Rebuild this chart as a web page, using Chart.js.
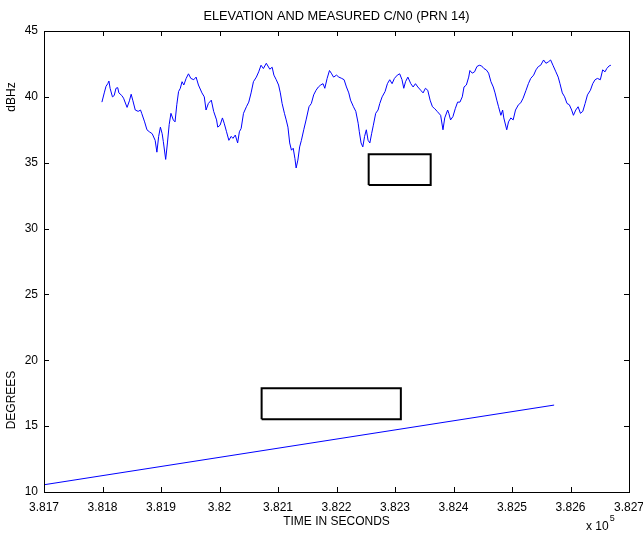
<!DOCTYPE html>
<html>
<head>
<meta charset="utf-8">
<script src="https://cdn.jsdelivr.net/npm/chart.js@4"></script>
<style>
  html, body { margin: 0; padding: 0; background: #fff; }
</style>
</head>
<body>
<canvas id="chart" width="643" height="535"></canvas>
<script>
// C/N0 trace (seconds, dBHz)
const cnTime = [
  381799, 381803, 381806, 381809, 381811, 381813, 381817, 381820, 381823, 381826,
  381828, 381833, 381836, 381842, 381846, 381849, 381852, 381856, 381861, 381865,
  381867, 381872, 381876, 381880, 381885, 381890, 381893, 381896, 381899, 381902,
  381904, 381908, 381911, 381914, 381917, 381921, 381924, 381927, 381930, 381933,
  381936, 381939, 381943, 381947, 381951, 381956, 381960, 381964, 381970, 381974,
  381977, 381981, 381986, 381990, 381995, 381997, 382001, 382005, 382008, 382012,
  382016, 382020, 382023, 382027, 382031, 382034, 382037, 382041, 382046, 382050,
  382054, 382058, 382063, 382067, 382071, 382075, 382080, 382086, 382090, 382093,
  382097, 382101, 382104, 382107, 382111, 382114, 382117, 382120, 382123, 382126,
  382129, 382131, 382134, 382137, 382140, 382144, 382148, 382153, 382157, 382161,
  382165, 382169, 382173, 382177, 382180, 382184, 382188, 382191, 382195, 382200,
  382204, 382209, 382213, 382217, 382221, 382224, 382229, 382233, 382237, 382239,
  382242, 382245, 382248, 382251, 382254, 382257, 382260, 382263, 382267, 382271,
  382274, 382278, 382283, 382287, 382291, 382295, 382299, 382304, 382308, 382312,
  382315, 382318, 382322, 382327, 382331, 382335, 382339, 382344, 382348, 382352,
  382356, 382360, 382364, 382368, 382372, 382378, 382382, 382385, 382390, 382392,
  382395, 382399, 382403, 382407, 382411, 382415, 382418, 382422, 382426, 382428,
  382432, 382436, 382440, 382444, 382448, 382452, 382456, 382460, 382464, 382468,
  382471, 382474, 382477, 382481, 382484, 382486, 382491, 382494, 382498, 382502,
  382506, 382511, 382515, 382519, 382524, 382528, 382532, 382537, 382541, 382545,
  382549, 382554, 382558, 382562, 382566, 382570, 382575, 382579, 382582, 382586,
  382590, 382594, 382598, 382602, 382605, 382609, 382613, 382617, 382621, 382625,
  382629, 382634, 382638, 382642, 382646, 382651, 382655, 382659, 382662, 382666,
  382669
];
const cnDbhz = [
  39.6, 40.3, 40.8, 41.0, 41.2, 40.65, 40.0, 40.1, 40.65, 40.7,
  40.3, 40.1, 39.9, 39.2, 39.7, 40.2, 39.7, 39.0, 38.9, 39.0,
  38.75, 38.1, 37.5, 37.35, 37.2, 36.7, 35.8, 37.0, 37.7, 37.2,
  36.6, 35.25, 36.5, 37.9, 38.75, 38.25, 38.1, 39.4, 40.4, 40.65,
  41.15, 40.9, 41.4, 41.75, 41.4, 41.3, 41.5, 40.9, 40.3, 40.0,
  39.0, 39.5, 39.75, 38.9, 38.25, 37.7, 37.85, 38.4, 38.0, 37.35,
  36.7, 37.0, 36.85, 37.1, 36.5, 37.35, 37.6, 38.75, 39.25, 39.6,
  40.3, 41.15, 41.5, 41.9, 42.4, 42.15, 42.55, 42.1, 42.25, 41.65,
  41.3, 40.9, 40.3, 39.5, 38.75, 38.25, 37.7, 36.5, 35.95, 36.1,
  35.3, 34.6, 35.2, 36.2, 36.7, 37.5, 38.25, 39.25, 39.5, 40.15,
  40.5, 40.75, 40.9, 41.0, 40.65, 41.4, 42.0, 41.8, 41.5, 41.65,
  41.5, 41.4, 41.3, 40.75, 40.3, 39.75, 39.25, 38.9, 38.0, 37.35,
  36.5, 36.2, 37.0, 37.5, 36.7, 36.5, 37.2, 37.85, 38.75, 39.0,
  39.5, 40.0, 40.4, 41.0, 41.3, 41.0, 41.4, 41.65, 41.75, 41.3,
  40.65, 41.15, 41.5, 41.0, 40.75, 41.0, 40.75, 40.5, 40.3, 40.65,
  40.5, 39.75, 39.25, 39.1, 38.9, 38.6, 37.5, 38.4, 39.0, 38.75,
  38.25, 38.5, 39.1, 39.6, 39.6, 40.0, 40.75, 40.9, 41.5, 42.0,
  41.8, 41.9, 42.3, 42.4, 42.35, 42.15, 42.05, 41.8, 41.15, 40.75,
  40.3, 39.75, 39.25, 38.6, 39.0, 38.4, 37.5, 38.1, 38.4, 38.25,
  39.0, 39.4, 39.55, 39.9, 40.5, 41.0, 41.4, 41.65, 42.05, 42.3,
  42.4, 42.8, 42.55, 42.65, 42.8, 42.4, 41.9, 41.5, 41.0, 40.3,
  40.0, 39.5, 39.4, 39.0, 38.6, 39.0, 39.25, 38.75, 38.9, 39.5,
  40.15, 40.5, 41.0, 41.3, 41.4, 41.3, 42.05, 41.9, 42.15, 42.35,
  42.4
];

// elevation (seconds, degrees)
const elevTime = [381700, 382572];
const elevDeg = [10.55, 16.6];

// the two empty annotation boxes (data units)
const box1X = [382255, 382361];
const box1Y = [33.3, 35.65];
const box2X = [382072, 382310];
const box2Y = [15.52, 17.87];

const FONT = '"Liberation Sans", Arial, Helvetica, sans-serif';

// closed rectangle path as line points
const boxPoints = (bx, by) => [
  { x: bx[0], y: by[0] }, { x: bx[1], y: by[0] },
  { x: bx[1], y: by[1] }, { x: bx[0], y: by[1] }, { x: bx[0], y: by[0] }
];

// Matlab-style frame: full box, inward ticks, labels
const matlabFrame = {
  id: 'matlabFrame',
  afterDraw(chart) {
    const { ctx, chartArea: a, scales: { x, y } } = chart;
    ctx.save();
    ctx.strokeStyle = '#000';
    ctx.lineWidth = 1;
    ctx.strokeRect(a.left + 0.5, a.top + 0.5, a.right - a.left, a.bottom - a.top);

    ctx.beginPath();
    x.ticks.forEach(t => {
      const px = Math.round(x.getPixelForValue(t.value)) + 0.5;
      ctx.moveTo(px, a.bottom); ctx.lineTo(px, a.bottom - 5);
      ctx.moveTo(px, a.top); ctx.lineTo(px, a.top + 5);
    });
    y.ticks.forEach(t => {
      const py = Math.round(y.getPixelForValue(t.value)) + 0.5;
      ctx.moveTo(a.left, py); ctx.lineTo(a.left + 5, py);
      ctx.moveTo(a.right, py); ctx.lineTo(a.right - 5, py);
    });
    ctx.stroke();

    ctx.fillStyle = '#000';
    ctx.textAlign = 'center';
    ctx.textBaseline = 'middle';
    ctx.font = '12.8px ' + FONT;
    ctx.fillText('ELEVATION AND MEASURED C/N0 (PRN 14)', (a.left + a.right) / 2, 16);
    ctx.font = '12px ' + FONT;
    ctx.fillText('TIME IN SECONDS', (a.left + a.right) / 2, 522);

    ctx.save();
    ctx.translate(12, 97);
    ctx.rotate(-Math.PI / 2);
    ctx.fillText('dBHz', 0, 0);
    ctx.restore();
    ctx.save();
    ctx.translate(12, 400);
    ctx.rotate(-Math.PI / 2);
    ctx.fillText('DEGREES', 0, 0);
    ctx.restore();

    ctx.textAlign = 'left';
    ctx.fillText('x 10', 586, 527);
    const w = ctx.measureText('x 10').width;
    ctx.font = '9px ' + FONT;
    ctx.fillText('5', 586 + w + 1, 519);
    ctx.restore();
  }
};

new Chart(document.getElementById('chart'), {
  type: 'line',
  data: {
    datasets: [
      {
        data: cnTime.map((t, i) => ({ x: t, y: cnDbhz[i] })),
        borderColor: '#0000ff',
        borderWidth: 1
      },
      {
        data: elevTime.map((t, i) => ({ x: t, y: elevDeg[i] })),
        borderColor: '#0000ff',
        borderWidth: 1
      },
      {
        data: boxPoints(box1X, box1Y),
        borderColor: '#000',
        borderWidth: 2
      },
      {
        data: boxPoints(box2X, box2Y),
        borderColor: '#000',
        borderWidth: 2
      }
    ]
  },
  options: {
    responsive: false,
    animation: false,
    devicePixelRatio: 1,
    elements: { point: { radius: 0 }, line: { tension: 0 } },
    layout: { padding: { left: 0, top: 31, right: 14, bottom: 0 } },
    plugins: {
      legend: { display: false },
      title: { display: false },
      tooltip: { enabled: false }
    },
    scales: {
      x: {
        type: 'linear',
        min: 381700,
        max: 382700,
        grid: { display: false },
        border: { display: false },
        afterFit: (scale) => {
          scale.height = 43;
          scale.paddingLeft = 0;
          scale.paddingRight = 0;
        },
        ticks: {
          stepSize: 100,
          autoSkip: false,
          maxRotation: 0,
          padding: 0,
          color: '#000',
          font: { family: FONT, size: 12 },
          callback: (value) => parseFloat((value / 1e5).toFixed(3))
        }
      },
      y: {
        min: 10,
        max: 45,
        grid: { display: false },
        border: { display: false },
        afterFit: (scale) => {
          scale.width = 44;
          scale.paddingTop = 0;
          scale.paddingBottom = 0;
        },
        ticks: {
          stepSize: 5,
          padding: -2,
          color: '#000',
          font: { family: FONT, size: 12 }
        }
      }
    }
  },
  plugins: [matlabFrame]
});
</script>
</body>
</html>
